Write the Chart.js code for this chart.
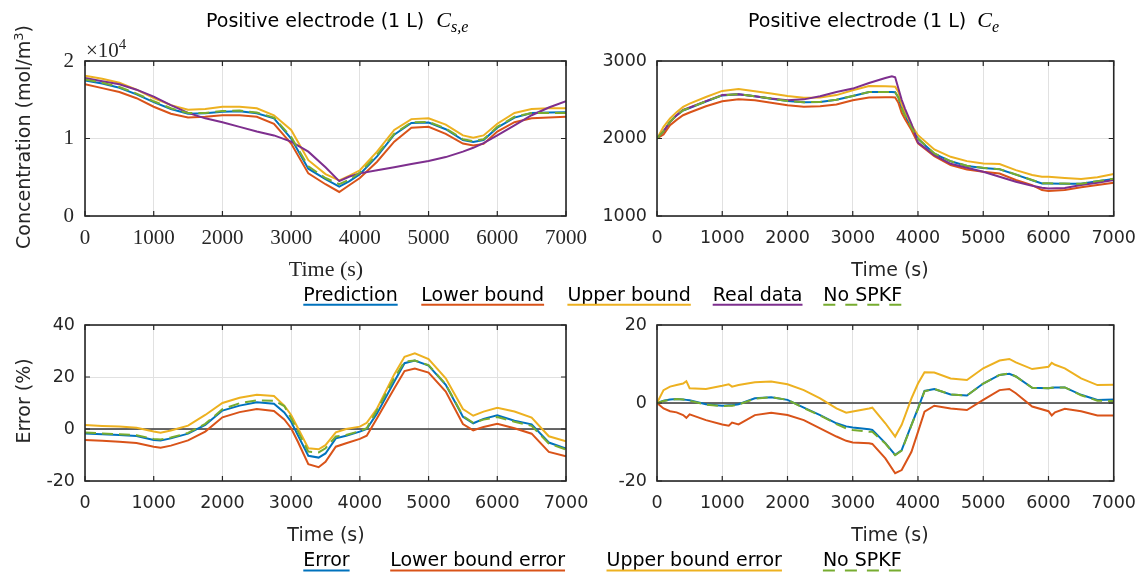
<!DOCTYPE html>
<html>
<head>
<meta charset="utf-8">
<script src="https://cdn.jsdelivr.net/npm/chart.js@4.4.1/dist/chart.umd.min.js"></script>
<style>
  html, body { margin: 0; padding: 0; background: #fff; }
  #wrap { position: relative; width: 1148px; height: 574px; overflow: hidden; background: #fff; }
  #wrap canvas, #wrap svg { position: absolute; left: 0; top: 0; }
  .sans { font-family: 'DejaVu Sans', sans-serif; }
  .serif { font-family: 'Liberation Serif', serif; }
</style>
</head>
<body>
<div id="wrap">
  <canvas id="cCs" width="1148" height="574"></canvas>
  <canvas id="cCe" width="1148" height="574"></canvas>
  <canvas id="cErrCs" width="1148" height="574"></canvas>
  <canvas id="cErrCe" width="1148" height="574"></canvas>
  <svg id="txt" width="1148" height="574" xmlns="http://www.w3.org/2000/svg">
    <!-- titles -->
    <text class="sans" x="206" y="27.3" font-size="19" fill="#000">Positive electrode (1 L) <tspan class="serif" font-style="italic" font-size="22" dx="6">C</tspan><tspan class="serif" font-style="italic" font-size="16" dy="5">s,e</tspan></text>
    <text class="sans" x="748" y="27.3" font-size="19" fill="#000">Positive electrode (1 L) <tspan class="serif" font-style="italic" font-size="22" dx="5">C</tspan><tspan class="serif" font-style="italic" font-size="16" dy="5">e</tspan></text>
    <!-- exponent of the concentration axis -->
    <text class="serif" x="86" y="57" font-size="21" fill="#262626">×10<tspan font-size="15" dy="-8.5">4</tspan></text>
    <!-- y axis titles -->
    <text class="sans" font-size="19" fill="#262626" text-anchor="middle" transform="translate(30,137) rotate(-90)">Concentration (mol/m<tspan font-size="13" dy="-7">3</tspan><tspan dy="7">)</tspan></text>
    <text class="sans" font-size="19" fill="#262626" text-anchor="middle" transform="translate(30,401) rotate(-90)">Error (%)</text>
    <!-- x axis titles -->
    <text class="serif" x="326" y="276" font-size="22" fill="#262626" text-anchor="middle">Time (s)</text>
    <text class="sans" x="890" y="276" font-size="19" fill="#262626" text-anchor="middle">Time (s)</text>
    <text class="sans" x="326" y="540.5" font-size="19" fill="#262626" text-anchor="middle">Time (s)</text>
    <text class="sans" x="890" y="540.5" font-size="19" fill="#262626" text-anchor="middle">Time (s)</text>
    <g id="legends"></g>
  </svg>
</div>
<script>
// ---------- data ----------
// Solid-phase surface concentration, positive electrode (mol/m^3)
const tCs = [0,250,500,750,1000,1250,1500,1750,2000,2250,2500,2750,3000,3250,3500,3700,3850,4000,4250,4500,4750,5000,5250,5500,5650,5800,6000,6250,6500,6750,7000];
const csPrediction = [17500,17100,16550,15700,14700,13800,13200,13250,13450,13500,13250,12600,10000,6100,4750,3800,4500,5400,7700,10500,12000,12050,11200,9800,9550,9800,11400,12700,13300,13350,13400];
const csLower      = [17000,16500,16000,15200,14100,13200,12700,12800,13000,13000,12800,11900,9350,5500,4100,3100,4000,4900,7000,9600,11400,11500,10600,9350,9100,9300,10900,12100,12600,12700,12800];
const csUpper      = [18100,17700,17200,16300,15200,14300,13700,13800,14100,14100,13900,13000,11100,7200,5400,4600,5200,5900,8300,11100,12500,12600,11800,10400,10100,10400,11900,13300,13800,13900,13900];
const csReal       = [17800,17400,17000,16300,15400,14300,13300,12600,12100,11500,10900,10400,9600,8300,6300,4500,5100,5500,5900,6300,6700,7100,7600,8300,8800,9400,10400,11700,13000,14000,14800];
const csNoSpkf     = [17600,17200,16650,15800,14800,13900,13300,13300,13550,13600,13350,12700,10200,6400,4900,4100,4700,5600,7900,10600,12100,12150,11300,9900,9650,9900,11500,12800,13300,13300,13300];

// Electrolyte concentration, positive electrode (mol/m^3)
const tCe = [0,100,200,300,400,500,750,1000,1250,1500,1750,2000,2250,2500,2750,3000,3250,3500,3600,3650,3700,3750,3800,3900,4000,4250,4500,4750,5000,5250,5500,5750,5900,6000,6250,6500,6750,7000];
const cePrediction = [2000,2092,2212,2298,2362,2393,2478,2556,2570,2544,2514,2484,2467,2471,2499,2548,2600,2600,2599,2597,2528,2388,2298,2138,1996,1804,1706,1646,1620,1603,1534,1462,1420,1420,1417,1415,1449,1479];
const ceLower      = [2000,2051,2172,2240,2300,2335,2416,2480,2506,2494,2460,2429,2410,2416,2440,2494,2528,2532,2532,2530,2460,2330,2250,2110,1936,1773,1657,1601,1571,1549,1464,1399,1335,1322,1335,1370,1400,1429];
const ceUpper      = [2000,2150,2258,2340,2408,2450,2536,2614,2640,2609,2580,2549,2527,2528,2560,2622,2678,2674,2672,2668,2600,2440,2340,2175,2043,1858,1764,1708,1678,1670,1592,1528,1506,1506,1490,1476,1500,1541];
const ceReal       = [2000,2094,2215,2300,2368,2400,2482,2560,2572,2546,2516,2494,2505,2545,2600,2644,2717,2781,2803,2790,2644,2500,2386,2190,1948,1785,1674,1622,1571,1506,1442,1391,1365,1356,1360,1399,1430,1464];
const ceNoSpkf     = [2000,2094,2215,2300,2365,2395,2480,2558,2571,2545,2515,2485,2468,2472,2500,2549,2601,2601,2600,2598,2530,2390,2300,2140,2000,1807,1708,1648,1622,1605,1536,1464,1421,1421,1418,1416,1450,1480];

// Relative error of the solid-phase concentration (%)
const tErrCs = [0,250,500,750,1000,1100,1250,1500,1750,2000,2250,2500,2750,2900,3000,3100,3250,3400,3500,3650,3800,4000,4100,4250,4500,4650,4800,5000,5250,5500,5650,5800,6000,6250,6500,6750,7000];
const errCsError  = [-1.7,-2.0,-2.3,-2.7,-4.2,-4.4,-3.6,-1.8,1.6,7.1,9.0,10.3,9.7,6.4,2.8,-2.5,-10.3,-11.0,-9.4,-3.6,-2.6,-1.0,0.0,6.0,18.2,25.3,26.3,24.4,17.0,4.7,2.2,3.9,5.3,3.2,1.8,-5.2,-7.5];
const errCsLower  = [-4.2,-4.5,-4.9,-5.4,-6.8,-7.2,-6.4,-4.4,-1.0,4.5,6.5,7.7,6.9,3.7,0.3,-5.0,-13.5,-14.7,-12.6,-6.8,-5.5,-3.8,-2.6,4.1,15.6,22.3,23.3,21.7,14.4,1.9,-0.5,0.8,2.0,0.3,-1.8,-8.8,-10.5];
const errCsUpper  = [1.5,1.2,1.0,0.5,-1.0,-1.4,-0.6,1.3,5.4,10.0,12.0,13.2,12.7,9.0,5.4,0.3,-7.4,-7.8,-6.2,-1.3,0.0,0.9,2.4,7.9,21.0,27.8,29.1,26.9,19.5,7.7,5.1,6.7,8.2,6.7,4.4,-2.8,-4.7];
const errCsNoSpkf = [-1.3,-1.7,-2.0,-2.4,-3.8,-4.0,-3.3,-1.5,2.0,7.6,9.9,11.0,10.9,8.8,4.1,-1.0,-8.7,-9.0,-7.4,-2.9,-2.3,-0.8,0.3,7.3,19.5,25.9,26.3,24.6,17.2,5.0,2.4,3.6,4.6,2.8,1.2,-5.6,-7.9];

// Relative error of the electrolyte concentration (%)
const tErrCe = [0,100,200,300,400,450,500,750,1000,1100,1150,1250,1500,1750,2000,2250,2500,2750,2900,3000,3250,3300,3500,3650,3750,3900,4000,4100,4250,4500,4750,5000,5250,5400,5500,5750,6000,6050,6100,6250,6500,6750,7000];
const errCeError  = [0,0.6,0.9,1.0,0.9,0.8,0.7,-0.3,-0.7,-0.6,-0.6,-0.3,1.2,1.5,0.8,-1.2,-3.1,-5.2,-6.0,-6.3,-6.7,-6.9,-10.3,-13.3,-12.1,-5.6,-1.4,3.1,3.6,2.2,1.9,5.0,7.2,7.5,6.8,3.9,3.8,3.9,4.0,4.0,2.1,0.8,0.9];
const errCeLower  = [0,-1.4,-2.1,-2.4,-3.1,-3.8,-2.9,-4.4,-5.5,-5.8,-5.0,-5.5,-3.1,-2.5,-3.1,-4.4,-6.5,-8.6,-9.7,-10.1,-10.3,-10.5,-14.2,-18.0,-17.2,-12.5,-7.4,-2.2,-0.7,-1.4,-1.8,0.8,3.3,3.6,2.5,-0.9,-2.1,-3.2,-2.4,-1.5,-2.1,-3.2,-3.2];
const errCeUpper  = [0,3.3,4.2,4.6,5.0,5.6,3.8,3.6,4.4,4.8,4.2,4.6,5.3,5.5,4.8,3.3,1.2,-1.4,-2.5,-2.2,-1.4,-1.2,-5.2,-8.6,-5.6,1.2,5.0,7.9,7.8,6.3,5.9,8.9,10.9,11.3,10.4,8.7,9.3,10.3,9.8,8.9,6.3,4.6,4.7];
const errCeNoSpkf = [0,0.5,0.8,1.0,0.9,0.8,0.6,-0.4,-0.8,-0.7,-0.7,-0.4,1.1,1.5,0.8,-1.3,-3.2,-5.4,-6.5,-6.9,-7.4,-7.4,-10.4,-13.4,-12.2,-5.7,-1.5,3.0,3.6,2.2,1.9,5.0,7.2,7.6,6.8,3.9,3.8,3.9,4.0,4.0,2.0,0.6,0.5];

// Tick values and labels
const xTicks = [0,1000,2000,3000,4000,5000,6000,7000];
const xTickLabels = ['0','1000','2000','3000','4000','5000','6000','7000'];
const yTicksCs = [0,10000,20000];
const yTickLabelsCs = ['0','1','2'];
const yTicksCe = [1000,2000,3000];
const yTickLabelsCe = ['1000','2000','3000'];
const yTicksErrCs = [-20,0,20,40];
const yTickLabelsErrCs = ['-20','0','20','40'];
const yTicksErrCe = [-20,0,20];
const yTickLabelsErrCe = ['-20','0','20'];

// Legend entries
const legendTop = ['Prediction','Lower bound','Upper bound','Real data','No SPKF'];
const legendBottom = ['Error','Lower bound error','Upper bound error','No SPKF'];

// ---------- drawing ----------
const COL = { blue:'#0072BD', orange:'#D95319', yellow:'#EDB120', purple:'#7E2F8E', green:'#77AC30', zero:'#383838' };
const W = 1148, H = 574;

function pts(t, v) { return t.map((x, i) => ({ x, y: v[i] })); }

function line(label, t, v, color, extra) {
  return Object.assign({ label, data: pts(t, v), borderColor: color, backgroundColor: color,
    borderWidth: 2, pointRadius: 0, tension: 0, fill: false }, extra || {});
}

// Axes box with inward tick marks on all four sides
const boxPlugin = {
  id: 'axesBox',
  afterDatasetsDraw(chart) {
    const { ctx, chartArea: a, scales: { x, y } } = chart;
    ctx.save();
    ctx.strokeStyle = '#262626';
    ctx.lineWidth = 1.2;
    const L = 5;
    ctx.beginPath();
    x.ticks.forEach(tk => {
      const px = x.getPixelForValue(tk.value);
      ctx.moveTo(px, a.bottom); ctx.lineTo(px, a.bottom - L);
      ctx.moveTo(px, a.top); ctx.lineTo(px, a.top + L);
    });
    y.ticks.forEach(tk => {
      const py = y.getPixelForValue(tk.value);
      ctx.moveTo(a.left, py); ctx.lineTo(a.left + L, py);
      ctx.moveTo(a.right, py); ctx.lineTo(a.right - L, py);
    });
    ctx.stroke();
    ctx.lineWidth = 1.6;
    ctx.strokeRect(a.left, a.top, a.right - a.left, a.bottom - a.top);
    ctx.restore();
  }
};

function makeChart(id, area, yTicks, yLabels, datasets, font, xPad, yPad) {
  const yW = 70, xH = 40;
  const grid = { color: '#e1e1e1', lineWidth: 1, drawTicks: false };
  return new Chart(document.getElementById(id), {
    type: 'line',
    data: { datasets },
    options: {
      responsive: false, animation: false, events: [],
      layout: { padding: { left: area.left - yW, right: W - area.right, top: area.top, bottom: H - area.bottom - xH } },
      plugins: { legend: { display: false }, tooltip: { enabled: false }, title: { display: false } },
      scales: {
        x: {
          type: 'linear', min: xTicks[0], max: xTicks[xTicks.length - 1],
          afterFit: s => { s.height = xH; },
          afterBuildTicks: s => { s.ticks = xTicks.map(v => ({ value: v })); },
          ticks: { font, color: '#262626', padding: xPad, maxRotation: 0, autoSkip: false,
                   callback: (v, i) => xTickLabels[i] },
          grid, border: { display: false }
        },
        y: {
          type: 'linear', min: yTicks[0], max: yTicks[yTicks.length - 1],
          afterFit: s => { s.width = yW; },
          afterBuildTicks: s => { s.ticks = yTicks.map(v => ({ value: v })); },
          ticks: { font, color: '#262626', padding: yPad, autoSkip: false,
                   callback: (v, i) => yLabels[i] },
          grid, border: { display: false }
        }
      }
    },
    plugins: [boxPlugin]
  });
}

const dash = { borderDash: [11, 6] };
const sansTick = { family: 'DejaVu Sans', size: 17.5 };
const serifTick = { family: 'Liberation Serif', size: 21 };

// dataset 0 is painted last (on top)
makeChart('cCs', { left: 85, top: 61, right: 566, bottom: 216 }, yTicksCs, yTickLabelsCs, [
  line('No SPKF', tCs, csNoSpkf, COL.green, dash),
  line('Real data', tCs, csReal, COL.purple),
  line('Upper bound', tCs, csUpper, COL.yellow),
  line('Lower bound', tCs, csLower, COL.orange),
  line('Prediction', tCs, csPrediction, COL.blue)
], serifTick, 10, 11);

makeChart('cCe', { left: 657, top: 61, right: 1123, bottom: 216 }, yTicksCe, yTickLabelsCe, [
  line('No SPKF', tCe, ceNoSpkf, COL.green, dash),
  line('Real data', tCe, ceReal, COL.purple),
  line('Upper bound', tCe, ceUpper, COL.yellow),
  line('Lower bound', tCe, ceLower, COL.orange),
  line('Prediction', tCe, cePrediction, COL.blue)
], sansTick, 12, 10);

makeChart('cErrCs', { left: 85, top: 325, right: 566, bottom: 481 }, yTicksErrCs, yTickLabelsErrCs, [
  line('No SPKF', tErrCs, errCsNoSpkf, COL.green, dash),
  line('Upper bound error', tErrCs, errCsUpper, COL.yellow),
  line('Lower bound error', tErrCs, errCsLower, COL.orange),
  line('Error', tErrCs, errCsError, COL.blue),
  line('zero', [0, 7000], [0, 0], COL.zero, { borderWidth: 1.5 })
], sansTick, 12, 10);

makeChart('cErrCe', { left: 657, top: 325, right: 1123, bottom: 481 }, yTicksErrCe, yTickLabelsErrCe, [
  line('No SPKF', tErrCe, errCeNoSpkf, COL.green, dash),
  line('Upper bound error', tErrCe, errCeUpper, COL.yellow),
  line('Lower bound error', tErrCe, errCeLower, COL.orange),
  line('Error', tErrCe, errCeError, COL.blue),
  line('zero', [0, 7000], [0, 0], COL.zero, { borderWidth: 1.5 })
], sansTick, 12, 10);

// ---------- legends: label text with its line sample underneath ----------
const NS = 'http://www.w3.org/2000/svg';
const lg = document.getElementById('legends');
function legendRow(labels, colors, xs, baseline, lineY) {
  labels.forEach((lab, i) => {
    const t = document.createElementNS(NS, 'text');
    t.setAttribute('x', xs[i]); t.setAttribute('y', baseline);
    t.setAttribute('class', 'sans'); t.setAttribute('font-size', '19'); t.setAttribute('fill', '#000');
    t.textContent = lab;
    lg.appendChild(t);
    const w = t.getComputedTextLength();
    const l = document.createElementNS(NS, 'line');
    l.setAttribute('x1', xs[i]); l.setAttribute('x2', xs[i] + w);
    l.setAttribute('y1', lineY); l.setAttribute('y2', lineY);
    l.setAttribute('stroke', colors[i]); l.setAttribute('stroke-width', '2');
    if (colors[i] === COL.green) l.setAttribute('stroke-dasharray', '12 10');
    lg.appendChild(l);
  });
}
legendRow(legendTop, [COL.blue, COL.orange, COL.yellow, COL.purple, COL.green],
          [303.3, 421.3, 567.4, 712.7, 823.3], 301.3, 304.7);
legendRow(legendBottom, [COL.blue, COL.orange, COL.yellow, COL.green],
          [303.3, 390.2, 606.5, 822.9], 565.7, 570.5);
</script>
</body>
</html>
